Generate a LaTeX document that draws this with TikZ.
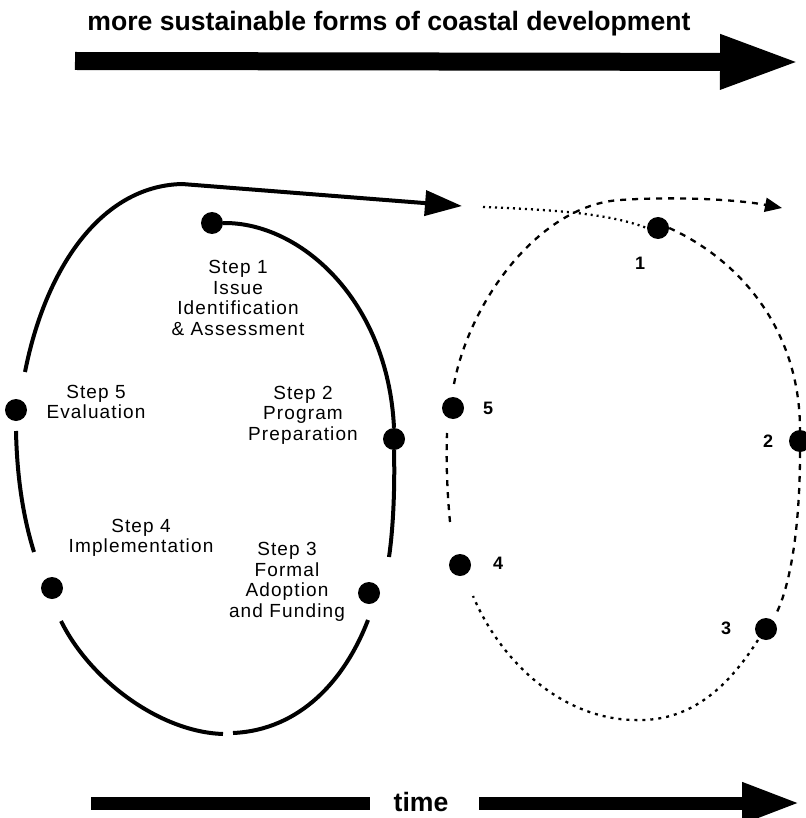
\documentclass[tikz,border=0pt]{standalone}
\usepackage{fontspec}
\setmainfont{Liberation Sans}
\newfontfamily\labfont[LetterSpace=6]{Liberation Sans}
\usetikzlibrary{arrows.meta}
\begin{document}
\begin{tikzpicture}[x=1pt,y=-1pt,
  dot/.style={circle,fill=black,inner sep=0pt,minimum size=22pt},
  loopline/.style={line width=4pt},
  bigarrow/.style={line width=18pt,-{Triangle[length=80pt,width=50pt]}},
  timebar/.style={line width=13pt},
  dashloop/.style={line width=2.3pt,dash pattern=on 6pt off 6pt},
  dotloop/.style={line width=2.3pt,dash pattern=on 3pt off 5pt},
  finedots/.style={line width=2.3pt,dash pattern=on 2pt off 4pt},
  steplabel/.style={align=center,font=\labfont\fontsize{19}{20.5}\selectfont,inner sep=0pt},
  numlabel/.style={font=\bfseries\fontsize{18}{20}\selectfont,inner sep=0pt},
  headline/.style={font=\bfseries\fontsize{26.6}{30}\selectfont,inner sep=0pt,anchor=base},
]
\useasboundingbox (0,0) rectangle (805,818);

% top arrow
\node[headline] (title) at (389,31) {more sustainable forms of coastal development};
\coordinate (ta0) at (75,61);
\coordinate (ta1) at (800,62);
\draw[bigarrow] (ta0) -- (ta1);

% left loop dots
\node[dot] (d1) at (212,223) {};
\node[dot] (d2) at (394,439) {};
\node[dot] (d3) at (369,593) {};
\node[dot] (d4) at (52,588) {};
\node[dot] (d5) at (16,410) {};

% left loop lines
\coordinate (l2b) at (389,557);
\coordinate (l3a) at (368,620);
\coordinate (lbot1) at (233,733);
\coordinate (lbot2) at (223,734);
\coordinate (l4a) at (61,621);
\coordinate (l5a) at (16,431);
\coordinate (l5b) at (34,552);
\coordinate (ltop) at (25,372);
\coordinate (lknee) at (182,184);
\coordinate (larrow) at (462,206);

\draw[loopline] (d1.east) .. controls (300,222) and (388,300) .. (d2.north);
\draw[loopline] (d2.south) .. controls (395,490) and (393,530) .. (l2b);
\draw[loopline] (l3a) .. controls (345,680) and (300,730) .. (lbot1);
\draw[loopline] (lbot2) .. controls (160,732) and (90,680) .. (l4a);
\draw[loopline] (l5a) .. controls (17,480) and (24,520) .. (l5b);
\draw[loopline,-{Triangle[length=37pt,width=25pt]}] (ltop) .. controls (45,270) and (100,186) .. (lknee) -- (larrow);

% labels left
\node[steplabel] (s1) at (238,298) {Step 1\\Issue\\Identification\\\& Assessment};
\node[steplabel] (s2) at (303,415) {Step 2\\Program\\Preparation};
\node[steplabel] (s3) at (287,582) {Step 3\\Formal\\Adoption\\and Funding};
\node[steplabel] (s4) at (141,538) {Step 4\\Implementation};
\node[steplabel] (s5) at (96,402) {Step 5\\Evaluation};

% right loop dots
\node[dot] (r1) at (658,228) {};
\node[dot] (r2) at (800,441) {};
\node[dot] (r3) at (766,629) {};
\node[dot] (r4) at (460,565) {};
\node[dot] (r5) at (453,408) {};

\node[numlabel] (n1) at (640,263) {1};
\node[numlabel] (n2) at (768,441) {2};
\node[numlabel] (n3) at (726,628) {3};
\node[numlabel] (n4) at (498,563) {4};
\node[numlabel] (n5) at (488,408) {5};

% right loop lines
\coordinate (rdot0) at (483,207);
\coordinate (r5a) at (454,384);
\coordinate (rtop) at (620,200);
\coordinate (rtip) at (782,208);
\coordinate (r2b) at (800,452);
\coordinate (r3a) at (777,612);
\coordinate (r3b) at (758,640);
\coordinate (rbot) at (633,720);
\coordinate (r4a) at (473,596);
\coordinate (r4b) at (450,522);
\coordinate (r5b) at (447,433);

\draw[finedots] (rdot0) .. controls (560,210) and (610,214) .. (r1.west);
\draw[dashloop,-{Triangle[length=17pt,width=14pt]}] (r5a) .. controls (470,300) and (540,205) .. (rtop) .. controls (680,196) and (740,200) .. (rtip);
\draw[dashloop] (r1.east) .. controls (740,260) and (800,330) .. (r2.north);
\draw[dashloop] (r2b) .. controls (800,520) and (792,580) .. (r3a);
\draw[dotloop] (r3b) .. controls (720,700) and (680,722) .. (rbot) .. controls (560,718) and (500,660) .. (r4a);
\draw[dashloop] (r4b) .. controls (447,490) and (446,460) .. (r5b);

% time arrow
\coordinate (tb0) at (91,803);
\coordinate (tb1) at (370,803);
\coordinate (tb2) at (479,803);
\coordinate (tb3) at (800,803);
\node[headline] (time) at (421,811) {time};
\draw[timebar] (tb0) -- (tb1);
\draw[timebar,-{Triangle[length=58pt,width=38pt]}] (tb2) -- (tb3);
\end{tikzpicture}
\end{document}
